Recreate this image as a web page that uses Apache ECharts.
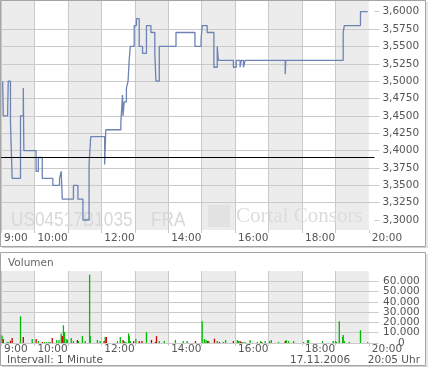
<!DOCTYPE html>
<html><head><meta charset="utf-8">
<script src="https://cdn.jsdelivr.net/npm/echarts@6/dist/echarts.min.js"></script>
<style>html,body{margin:0;padding:0;background:#fff}#c{width:432px;height:372px}</style>
</head><body><div id="c"></div><script>
// ---- data ----
const priceTimes = ['9:03','9:04','9:12','9:13','9:17','9:20','9:35','9:40','9:41','10:03','10:07','10:14','10:33','10:45','10:48','10:50','11:10','11:18','11:27','11:38','11:41','12:06','12:08','12:35','12:38','12:39','12:41','12:45','12:48','12:50','12:52','12:59','13:03','13:08','13:14','13:21','13:29','13:36','13:38','13:44','14:14','14:48','14:59','15:01','15:10','15:22','15:28','15:30','15:57','16:02','16:09','16:11','16:15','16:18','17:30','17:31','19:14','19:16','19:45','19:58'];
const priceValues = [3.50,3.45,3.46,3.50,3.44,3.36,3.45,3.49,3.40,3.37,3.39,3.36,3.35,3.36,3.37,3.33,3.35,3.33,3.30,3.38,3.42,3.38,3.43,3.44,3.48,3.45,3.47,3.49,3.50,3.53,3.55,3.58,3.59,3.55,3.54,3.58,3.57,3.54,3.50,3.55,3.57,3.55,3.56,3.58,3.57,3.52,3.55,3.53,3.52,3.53,3.52,3.53,3.52,3.53,3.51,3.53,3.57,3.58,3.60,3.60];
const prevClose = 3.39;

const volTimes = ['9:02','9:04','9:11','9:13','9:17','9:20','9:35','9:40','9:56','10:03','10:07','10:14','10:18','10:22','10:26','10:28','10:32','10:40','10:44','10:48','10:50','10:52','10:54','10:57','10:59','11:06','11:10','11:17','11:19','11:26','11:31','11:39','11:40','11:53','11:58','12:05','12:07','12:09','12:29','12:34','12:39','12:41','12:44','12:49','12:50','12:52','12:58','13:02','13:08','13:13','13:21','13:30','13:37','13:39','13:44','13:53','14:13','14:27','14:34','14:49','15:01','15:05','15:08','15:11','15:13','15:23','15:28','15:32','15:39','15:43','15:57','16:04','16:06','16:09','16:11','16:14','16:18','16:27','16:40','16:46','16:48','16:54','17:02','17:05','17:18','17:30','17:32','17:36','17:45','18:03','18:10','18:12','18:37','18:56','19:00','19:02','19:07','19:13','19:14','19:16','19:25','19:45','19:58'];
const volValues = [7400,3800,1000,1000,2200,4800,26000,5800,3800,3800,1900,1000,1000,1000,1000,1000,4800,2900,2900,9300,6700,17300,10600,3800,3200,4800,1900,2900,1900,6700,1900,66400,6700,2900,1900,1900,5800,5800,1900,5800,2900,1900,1000,9300,6700,1900,1900,3800,1900,1900,10600,2900,1000,6700,1900,1900,2900,1900,1900,1900,21200,3800,2900,1900,1900,4200,1900,1000,1000,2900,1900,2900,1900,1900,1000,1000,1000,2900,1000,1900,1000,1900,1900,2900,1000,1900,2900,1900,1900,1000,2900,2900,1900,1900,1900,1000,21200,5800,7700,1900,1000,12500,1000];
const volDown = [0,1,0,0,1,1,0,1,0,1,0,1,0,0,0,0,1,0,0,0,1,0,0,0,0,0,0,1,0,0,0,0,0,0,0,1,0,1,0,0,1,0,0,0,0,0,1,0,1,1,0,1,1,1,0,0,0,0,0,1,0,0,0,1,0,1,0,1,0,0,1,0,0,1,1,0,0,0,0,0,1,0,0,0,0,1,0,0,0,0,0,0,0,0,0,0,0,0,0,0,0,0,0];

const xLabelTexts = ['9:00','10:00','12:00','14:00','16:00','18:00','20:00'];
const hourTicks = ['9:00','10:00','11:00','12:00','13:00','14:00','15:00','16:00','17:00','18:00','19:00','20:00'];
const priceTicks = [3.300,3.325,3.350,3.375,3.400,3.425,3.450,3.475,3.500,3.525,3.550,3.575,3.600];
const volTicks = [0,10000,20000,30000,40000,50000,60000];
const volLabelsA = [0,20000,40000,60000];
const volLabelsB = [10000,30000,50000];

// ---- helpers ----
const toMin = s => { const p = s.split(':'); return +p[0]*60 + +p[1]; };
const fmtTime = m => Math.floor(m/60) + ':' + String(Math.round(m%60)).padStart(2,'0');
const fmtVol = v => String(v).replace(/\B(?=(\d{3})+(?!\d))/g, '.');
const priceData = priceTimes.map((t,i) => [toMin(t), priceValues[i]]);
const volUp = [], volDn = [];
volTimes.forEach((t,i) => (volDown[i] ? volDn : volUp).push([toMin(t), volValues[i]]));
const xLabelMins = xLabelTexts.map(toMin);
const hourMins = hourTicks.map(toMin);

const FONT = 'DejaVu Sans';
const GRID_C = '#cacaca';
const TXT = '#555';
const X_MIN = 540, X_MAX = 1210;
const P_MIN = 3.2856, P_MAX = 3.6154;
const V_MAX = 70000;

function xAxisFor(gi, margin) {
  return {
    type: 'value', gridIndex: gi, min: X_MIN, max: X_MAX, interval: 60, z: 0,
    axisLine: {show: false},
    axisTick: {show: true, length: 3, lineStyle: {color: GRID_C}, customValues: hourMins},
    axisLabel: {
      show: true, customValues: xLabelMins, align: 'left', padding: [0,0,0,3], margin: margin,
      showMinLabel: true, showMaxLabel: true, hideOverlap: false, lineHeight: 8,
      fontFamily: FONT, fontSize: 10.5, color: TXT,
      formatter: v => xLabelMins.indexOf(v) >= 0 ? fmtTime(v) : ''
    },
    splitLine: {show: true, showMaxLine: false, lineStyle: {color: GRID_C, width: 1}},
    splitArea: {show: true, areaStyle: {color: ['#ececec', '#ffffff']}}
  };
}
function volAxis(labels, withLines) {
  return {
    type: 'value', gridIndex: 1, position: 'right', min: 0, max: V_MAX, interval: 10000, z: 1,
    axisLine: {show: false},
    axisTick: {show: withLines, length: 4, lineStyle: {color: GRID_C}, customValues: volTicks},
    axisLabel: {
      show: true, customValues: labels, align: 'center', margin: 27, lineHeight: 8,
      showMinLabel: true, showMaxLabel: true, hideOverlap: false,
      fontFamily: FONT, fontSize: 10.5, color: TXT,
      formatter: v => labels.indexOf(v) >= 0 ? fmtVol(v) : ''
    },
    splitLine: {show: withLines, lineStyle: {color: GRID_C, width: 1}}
  };
}

const chart = echarts.init(document.getElementById('c'), null, {renderer: 'canvas'});
chart.setOption({
  animation: false,
  backgroundColor: '#ffffff',
  grid: [
    {left: 1, top: 1, width: 373.4, height: 229, outerBoundsMode: 'none', containLabel: false},
    {left: 1, top: 271, width: 373.4, height: 72, outerBoundsMode: 'none', containLabel: false}
  ],
  xAxis: [xAxisFor(0, 4), xAxisFor(1, 2)],
  yAxis: [
    {
      type: 'value', gridIndex: 0, position: 'right', min: P_MIN, max: P_MAX,
      minInterval: 0.025, maxInterval: 0.025, splitNumber: 13, z: 1,
      axisLine: {show: false},
      axisTick: {show: true, length: 5, lineStyle: {color: GRID_C}, customValues: priceTicks},
      axisLabel: {
        show: true, customValues: priceTicks, align: 'left', margin: 8,
        showMinLabel: true, showMaxLabel: true, hideOverlap: false,
        fontFamily: FONT, fontSize: 10.5, color: TXT,
        formatter: v => {
          const k = v / 0.025;
          return Math.abs(k - Math.round(k)) < 1e-6 ? v.toFixed(4).replace('.', ',') : '';
        }
      },
      splitLine: {show: true, showMinLine: false, showMaxLine: false, lineStyle: {color: GRID_C, width: 1}}
    },
    volAxis(volLabelsA, true),
    volAxis(volLabelsB, false)
  ],
  series: [
    {
      type: 'line', name: 'Kurs', xAxisIndex: 0, yAxisIndex: 0, step: 'end',
      data: priceData, symbol: 'none', z: 3,
      lineStyle: {color: '#6c83b4', width: 1.3},
      markLine: {
        silent: true, symbol: 'none', label: {show: false},
        lineStyle: {color: '#000', width: 1, type: 'solid'},
        data: [{yAxis: prevClose}]
      }
    },
    {
      type: 'bar', name: 'up', xAxisIndex: 1, yAxisIndex: 1, data: volUp,
      barWidth: 1.3, barGap: '-100%', itemStyle: {color: '#00bb00'}, z: 3
    },
    {
      type: 'bar', name: 'down', xAxisIndex: 1, yAxisIndex: 1, data: volDn,
      barWidth: 1.3, barGap: '-100%', itemStyle: {color: '#c80000'}, z: 3
    }
  ],
  graphic: [
    {type: 'text', x: 11, y: 220, z: 0.5, scaleX: 0.82, silent: true,
     style: {text: 'US04517B1035', fontFamily: 'Liberation Sans', fontSize: 21, fill: '#d8d8d8', verticalAlign: 'middle', align: 'left'}},
    {type: 'text', x: 151, y: 220, z: 0.5, scaleX: 0.82, silent: true,
     style: {text: 'FRA', fontFamily: 'Liberation Sans', fontSize: 21, fill: '#d8d8d8', verticalAlign: 'middle', align: 'left'}},
    {type: 'rect', z: 0.5, silent: true, shape: {x: 208, y: 205, width: 22, height: 22},
     style: {fill: '#e2e2e2'}},
    {type: 'text', x: 236, y: 216, z: 0.5, silent: true,
     style: {text: 'Cortal Consors', fontFamily: 'Liberation Serif', fontSize: 21, fill: '#dcdcdc', verticalAlign: 'middle', align: 'left'}},
    // panel frames
    {type: 'rect', z: 10, silent: true, shape: {x: 0.5, y: 0.5, width: 425, height: 246},
     style: {fill: 'none', stroke: '#a4a4a4', lineWidth: 1}},
    {type: 'line', z: 10, silent: true, shape: {x1: 427, y1: 2, x2: 427, y2: 248}, style: {stroke: '#d0d0d0', lineWidth: 1}},
    {type: 'line', z: 10, silent: true, shape: {x1: 2, y1: 247.5, x2: 427.5, y2: 247.5}, style: {stroke: '#d0d0d0', lineWidth: 1}},
    {type: 'rect', z: 10, silent: true, shape: {x: 0.5, y: 252.5, width: 425, height: 113},
     style: {fill: 'none', stroke: '#a4a4a4', lineWidth: 1}},
    {type: 'line', z: 10, silent: true, shape: {x1: 427, y1: 254, x2: 427, y2: 367}, style: {stroke: '#d0d0d0', lineWidth: 1}},
    {type: 'line', z: 10, silent: true, shape: {x1: 2, y1: 366.5, x2: 427.5, y2: 366.5}, style: {stroke: '#d0d0d0', lineWidth: 1}},
    // texts
    {type: 'text', x: 8, y: 263, z: 10, silent: true,
     style: {text: 'Volumen', fontFamily: FONT, fontSize: 10.5, fill: '#666', verticalAlign: 'middle', align: 'left'}},
    {type: 'text', x: 7, y: 360, z: 10, silent: true,
     style: {text: 'Intervall: 1 Minute', fontFamily: FONT, fontSize: 10.5, fill: TXT, verticalAlign: 'middle', align: 'left'}},
    {type: 'text', x: 290, y: 360, z: 10, silent: true,
     style: {text: '17.11.2006', fontFamily: FONT, fontSize: 10.5, fill: TXT, verticalAlign: 'middle', align: 'left'}},
    {type: 'text', x: 420, y: 360, z: 10, silent: true,
     style: {text: '20:05 Uhr', fontFamily: FONT, fontSize: 10.5, fill: TXT, verticalAlign: 'middle', align: 'right'}}
  ]
});
</script></body></html>
